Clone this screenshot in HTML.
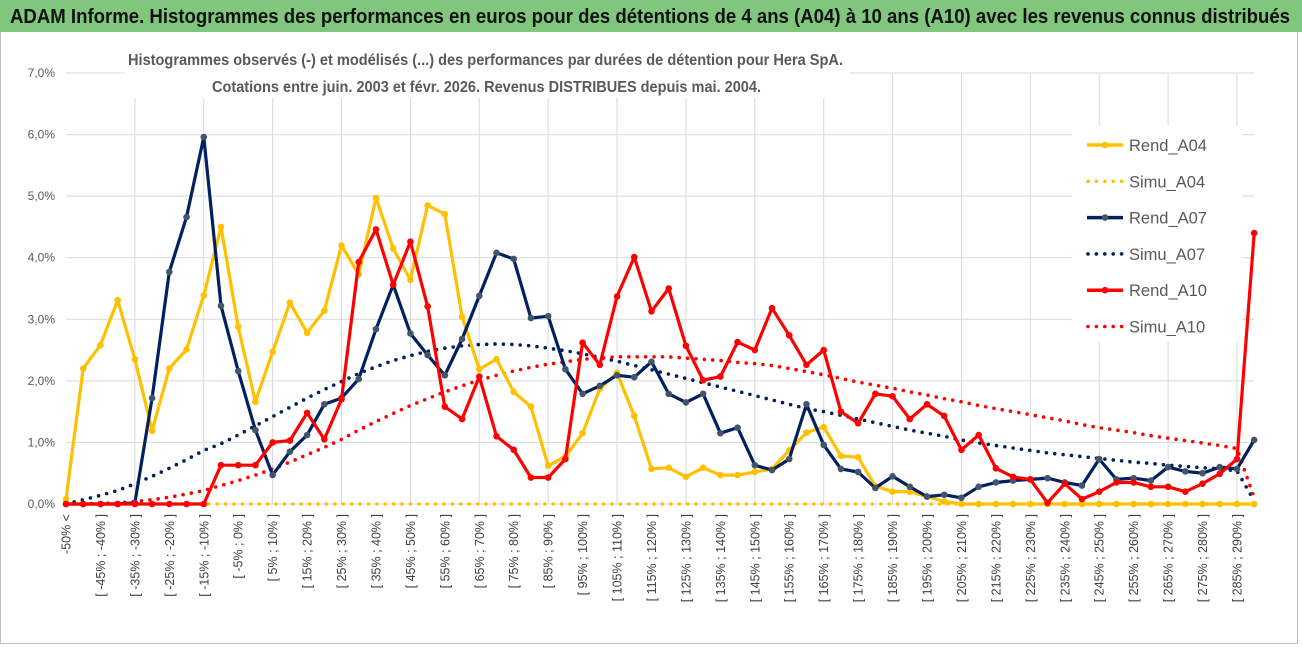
<!DOCTYPE html>
<html><head><meta charset="utf-8"><style>
html,body{margin:0;padding:0;background:#fff;width:1302px;height:647px;overflow:hidden}
svg{display:block;font-family:"Liberation Sans Narrow","Liberation Sans",sans-serif}
</style></head><body>
<svg id="chart" width="1302" height="647" viewBox="0 0 1302 647" xmlns="http://www.w3.org/2000/svg">
<rect x="0.5" y="31.5" width="1297" height="612" fill="#fff" stroke="#bfbfbf"/>
<rect x="0" y="0" width="1302" height="32" fill="#80c67c"/>
<text x="10" y="23" font-size="20" font-weight="bold" fill="#111" textLength="1280" lengthAdjust="spacingAndGlyphs">ADAM Informe. Histogrammes des performances en euros pour des détentions de 4 ans (A04) à 10 ans (A10) avec les revenus connus distribués</text>
<g id="grid"></g>
<rect x="125" y="40" width="725" height="58" fill="#fff"/>
<text x="128" y="65" font-size="16" font-weight="bold" fill="#595959" textLength="715" lengthAdjust="spacingAndGlyphs">Histogrammes observés (-) et modélisés (...) des performances par durées de détention pour Hera SpA.</text>
<text x="212" y="92" font-size="16" font-weight="bold" fill="#595959" textLength="549" lengthAdjust="spacingAndGlyphs">Cotations entre juin. 2003 et févr. 2026. Revenus DISTRIBUES depuis mai. 2004.</text>
<g id="axes"></g><g id="series"></g>
<g id="legend"></g>
</svg>
<script>
const categories = ["-50% <"];
for (let k = -50; k < 295; k += 5) categories.push("[ " + k + "% ; " + (k + 5) + "% ]");
const yTicks = [0, 1, 2, 3, 4, 5, 6, 7];
const yTickLabels = ["0,0%", "1,0%", "2,0%", "3,0%", "4,0%", "5,0%", "6,0%", "7,0%"];
const rendA04 = [0.08,2.2,2.58,3.31,2.35,1.19,2.2,2.51,3.39,4.5,2.88,1.66,2.47,3.27,2.78,3.14,4.2,3.73,4.97,4.15,3.64,4.85,4.71,3.04,2.19,2.35,1.82,1.58,0.62,0.77,1.15,1.87,2.13,1.43,0.57,0.59,0.44,0.59,0.47,0.47,0.52,0.57,0.87,1.16,1.25,0.78,0.76,0.29,0.2,0.2,0.12,0.04,0,0,0,0,0,0,0,0,0,0,0,0,0,0,0,0,0,0];
const simuA04 = [0,0,0,0,0,0,0,0,0,0,0,0,0,0,0,0,0,0,0,0,0,0,0,0,0,0,0,0,0,0,0,0,0,0,0,0,0,0,0,0,0,0,0,0,0,0,0,0,0,0,0,0,0,0,0,0,0,0,0,0,0,0,0,0,0,0,0,0,0,0];
const rendA07 = [0,0,0,0,0.02,1.72,3.77,4.66,5.96,3.22,2.16,1.2,0.47,0.85,1.12,1.62,1.72,2.03,2.84,3.56,2.77,2.42,2.09,2.68,3.38,4.08,3.98,3.02,3.05,2.19,1.79,1.92,2.09,2.06,2.31,1.79,1.65,1.79,1.15,1.24,0.63,0.55,0.73,1.62,0.96,0.57,0.52,0.26,0.45,0.28,0.12,0.15,0.1,0.28,0.35,0.38,0.4,0.42,0.35,0.3,0.73,0.4,0.42,0.38,0.6,0.53,0.5,0.6,0.57,1.04];
const simuA07 = [0,0.07,0.14,0.22,0.33,0.45,0.58,0.72,0.87,0.98,1.12,1.27,1.42,1.57,1.72,1.86,1.99,2.12,2.23,2.33,2.41,2.48,2.53,2.57,2.59,2.6,2.59,2.57,2.53,2.49,2.44,2.38,2.32,2.25,2.18,2.11,2.04,1.97,1.9,1.83,1.76,1.69,1.62,1.55,1.5,1.44,1.38,1.32,1.26,1.2,1.15,1.1,1.04,0.99,0.95,0.91,0.87,0.83,0.8,0.77,0.74,0.71,0.68,0.66,0.63,0.61,0.59,0.57,0.54,0.05];
const rendA10 = [0,0,0,0,0,0,0,0,0,0.63,0.63,0.63,1.0,1.03,1.48,1.05,1.7,3.93,4.46,3.56,4.26,3.21,1.58,1.38,2.07,1.1,0.88,0.43,0.43,0.73,2.62,2.26,3.37,4.01,3.13,3.5,2.57,2.01,2.07,2.63,2.5,3.18,2.74,2.26,2.5,1.5,1.31,1.79,1.75,1.38,1.62,1.43,0.88,1.12,0.58,0.44,0.4,0.02,0.33,0.08,0.2,0.35,0.35,0.28,0.28,0.2,0.33,0.49,0.73,4.4];
const simuA10 = [0,0,0.01,0.02,0.04,0.07,0.11,0.16,0.22,0.3,0.38,0.47,0.57,0.68,0.8,0.92,1.05,1.2,1.34,1.47,1.6,1.71,1.82,1.92,2.01,2.09,2.16,2.22,2.27,2.31,2.35,2.37,2.39,2.39,2.39,2.39,2.37,2.35,2.33,2.3,2.28,2.25,2.2,2.15,2.1,2.04,1.98,1.93,1.88,1.82,1.77,1.71,1.66,1.6,1.55,1.5,1.45,1.4,1.35,1.29,1.24,1.2,1.16,1.11,1.07,1.03,0.99,0.95,0.9,0.1];

const NS = "http://www.w3.org/2000/svg";
const X0 = 66, STEP = 17.22, Y0 = 504, YPER = 61.57;
function xPos(i) { return X0 + STEP * i; }
function yPos(v) { return Y0 - YPER * v; }
function mk(tag, attrs, parent) {
  const e = document.createElementNS(NS, tag);
  for (const k in attrs) e.setAttribute(k, attrs[k]);
  parent.appendChild(e);
  return e;
}
const grid = document.getElementById("grid");
const axes = document.getElementById("axes");
const seriesG = document.getElementById("series");
const xEnd = xPos(69);
yTicks.forEach((t, j) => {
  const ln = mk("line", {x1: X0, x2: xEnd, y1: yPos(t), y2: yPos(t), stroke: "#d9d9d9", "stroke-width": 1}, grid);
  
  
  const tx = mk("text", {x: 55, y: yPos(t) + 4, "text-anchor": "end", "font-size": 12, fill: "#595959"}, axes);
  tx.textContent = yTickLabels[j];
  
  
});
for (let i = 4; i < categories.length; i += 4) {
  const ln = mk("line", {x1: xPos(i), x2: xPos(i), y1: yPos(7), y2: Y0, stroke: "#d9d9d9", "stroke-width": 1}, grid);
  
  
}
categories.forEach((c, i) => {
  if (i % 2 !== 0 || i > 68) return;
  const tx = mk("text", {x: 0, y: 0, "text-anchor": "end", "font-size": 12.5, fill: "#404040",
    transform: "translate(" + (xPos(i) + 4.5) + ",514) rotate(-90)"}, axes);
  tx.textContent = c;
  
  
});
function pts(arr) { return arr.map((v, i) => xPos(i).toFixed(1) + "," + yPos(v).toFixed(1)).join(" "); }
function dotted(arr, color, name) {
  const p = mk("polyline", {points: pts(arr), fill: "none", stroke: color, "stroke-width": 3.6, "stroke-linecap": "round", "stroke-dasharray": "0 8.4"}, seriesG);
  
  
}
function solid(arr, color, mcolor, name) {
  const g = mk("g", {}, seriesG);
  
  
  mk("polyline", {points: pts(arr), fill: "none", stroke: color, "stroke-width": 3.2, "stroke-linejoin": "round"}, g);
  arr.forEach((v, i) => {
    const c = mk("circle", {cx: xPos(i), cy: yPos(v), r: 3.3, fill: mcolor}, g);
    
    
  });
}
dotted(simuA04, "#ffc000", "simu-a04-line");
dotted(simuA07, "#002060", "simu-a07-line");
dotted(simuA10, "#ff0000", "simu-a10-line");
solid(rendA04, "#ffc000", "#ffc000", "rend-a04-line");
solid(rendA07, "#002060", "#44546a", "rend-a07-line");
solid(rendA10, "#ff0000", "#ff0000", "rend-a10-line");

const legend = document.getElementById("legend");
mk("rect", {x: 1072, y: 126, width: 170, height: 216, fill: "#fff"}, legend);
const legendNames = ["Rend_A04", "Simu_A04", "Rend_A07", "Simu_A07", "Rend_A10", "Simu_A10"];
const legendColors = ["#ffc000", "#ffc000", "#002060", "#002060", "#ff0000", "#ff0000"];
const legendMarker = ["#ffc000", null, "#44546a", null, "#ff0000", null];
legendNames.forEach((n, k) => {
  const y = 145 + k * 36.3;
  const g = mk("g", {}, legend);
  
  
  if (k % 2 === 0) {
    mk("line", {x1: 1087, x2: 1123, y1: y, y2: y, stroke: legendColors[k], "stroke-width": 3.5}, g);
    mk("circle", {cx: 1105, cy: y, r: 3.3, fill: legendMarker[k]}, g);
  } else {
    mk("line", {x1: 1088, x2: 1122, y1: y, y2: y, stroke: legendColors[k], "stroke-width": 3.6, "stroke-linecap": "round", "stroke-dasharray": "0 8.4"}, g);
  }
  const t = mk("text", {x: 1129, y: y + 6, "font-size": 16.5, fill: "#595959"}, g);
  t.textContent = n;
});
</script>
</body></html>
